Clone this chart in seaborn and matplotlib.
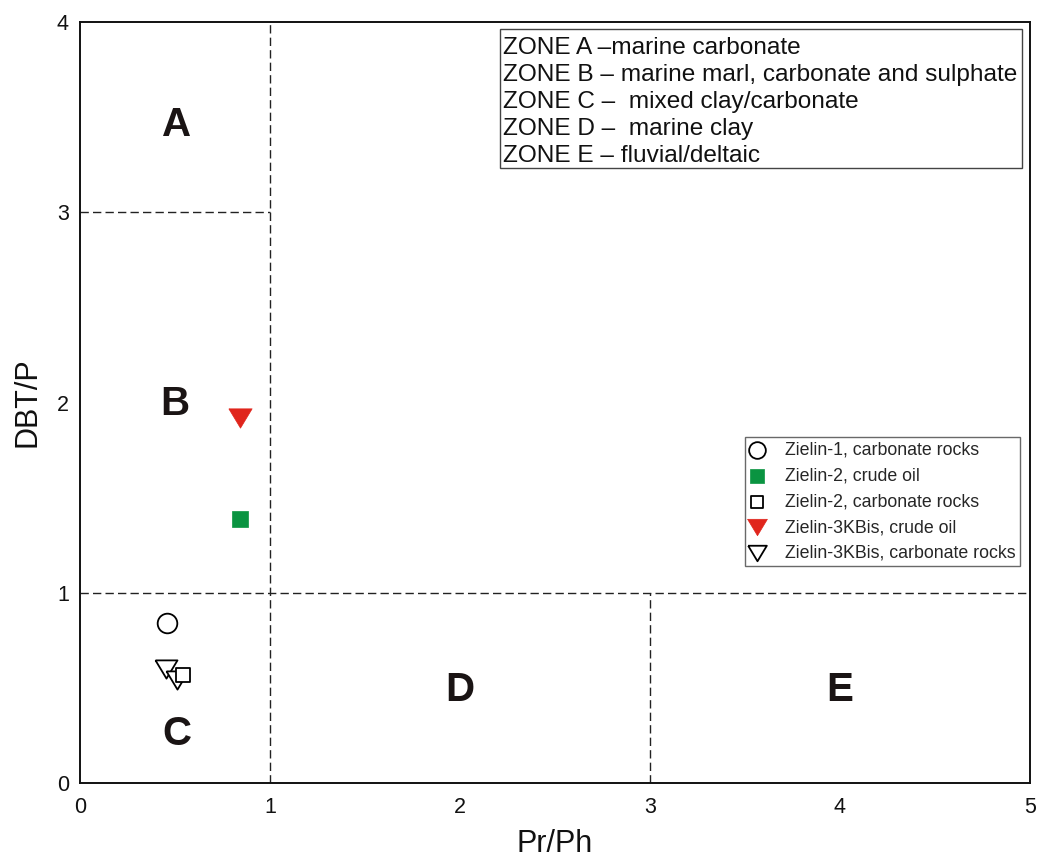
import numpy as np
import pandas as pd
import matplotlib
matplotlib.use("Agg")
import matplotlib.pyplot as plt
from matplotlib.markers import MarkerStyle
from matplotlib.patches import Rectangle
import seaborn as sns

sns.set_style("white")
plt.rcParams['font.family'] = ['Liberation Sans', 'DejaVu Sans']

# ---- data ----
series = ["Zielin-1, carbonate rocks", "Zielin-2, crude oil", "Zielin-2, carbonate rocks",
          "Zielin-3KBis, crude oil", "Zielin-3KBis, carbonate rocks"]
pr_ph = [[0.46], [0.84], [0.54], [0.84], [0.45, 0.51]]
dbt_p = [[0.84], [1.39], [0.57], [1.92], [0.60, 0.54]]

zone_letters = ["A", "B", "C", "D", "E"]
zone_x = [0.51, 0.50, 0.51, 2.0, 4.0]
zone_y = [3.46, 1.99, 0.26, 0.49, 0.49]
zone_text = ["ZONE A \u2013marine carbonate",
             "ZONE B \u2013 marine marl, carbonate and sulphate",
             "ZONE C \u2013  mixed clay/carbonate",
             "ZONE D \u2013  marine clay",
             "ZONE E \u2013 fluvial/deltaic"]
x_ticks = [0, 1, 2, 3, 4, 5]
y_ticks = [0, 1, 2, 3, 4]

rows = []
for s, xs, ys in zip(series, pr_ph, dbt_p):
    for xv, yv in zip(xs, ys):
        rows.append({"Pr/Ph": xv, "DBT/P": yv, "series": s})
df = pd.DataFrame(rows)

tri = MarkerStyle([(-1, 0.83), (1, 0.83), (0, -0.83), (-1, 0.83)])
styles = {
    series[0]: dict(marker="o", s=200, color="white", edgecolor="black", linewidth=1.3, zorder=3),
    series[1]: dict(marker="s", s=135, color="#0a9441", edgecolor="#0a9441", linewidth=0.5, zorder=3),
    series[2]: dict(marker="s", s=110, color="white", edgecolor="black", linewidth=1.3, zorder=5),
    series[3]: dict(marker=tri, s=280, color="#e0251c", edgecolor="#e0251c", linewidth=0.5, zorder=3),
    series[4]: dict(marker=tri, s=250, color="white", edgecolor="black", linewidth=1.3, zorder=4),
}

fig = plt.figure(figsize=(10.38, 8.55), dpi=100)
ax = fig.add_axes([80/1038, 72/855, 950/1038, 761/855])

for s in series:
    sub = df[df["series"] == s]
    sns.scatterplot(data=sub, x="Pr/Ph", y="DBT/P", ax=ax, label=s, **styles[s])

# zone boundary lines
dkw = dict(color="#222222", linewidth=1.0, linestyle=(0, (6, 3)), zorder=1)
ax.plot([1, 1], [0, 4], **dkw)
ax.plot([0, 1], [3, 3], **dkw)
ax.plot([0, 5], [1, 1], **dkw)
ax.plot([3, 3], [0, 1], **dkw)

for L, zx, zy in zip(zone_letters, zone_x, zone_y):
    ax.text(zx, zy, L, fontsize=29, fontweight="bold", color="#1a1414",
            ha="center", va="center")

# zone description box
ax.add_patch(Rectangle((0.4421, 0.8081), 0.5495, 0.1827, transform=ax.transAxes,
                       facecolor="white", edgecolor="#444444", linewidth=1.0, zorder=6))
ax.text(0.4453, 0.9803, "\n".join(zone_text), transform=ax.transAxes,
        fontsize=17.6, linespacing=1.3, ha="left", va="top", color="#111111", zorder=7)

ax.set_xlim(0, 5)
ax.set_ylim(0, 4)
ax.set_xticks(x_ticks)
ax.set_yticks(y_ticks)
ax.tick_params(axis="both", direction="out", length=4, width=1, color="#999999",
               labelsize=15.5, labelcolor="#111111")
ax.tick_params(axis="x", pad=6)
ax.tick_params(axis="y", pad=4)
for sp in ax.spines.values():
    sp.set_color("#111111")
    sp.set_linewidth(1.4)
ax.set_xlabel("Pr/Ph", fontsize=22, color="#111111", labelpad=8)
ax.set_ylabel("DBT/P", fontsize=22, color="#111111", labelpad=10)

leg = ax.legend(loc="upper right", bbox_to_anchor=(0.9895, 0.4547), borderaxespad=0,
                fontsize=12.8, frameon=True, fancybox=False, markerscale=0.85,
                labelspacing=0.5, handletextpad=1.2, borderpad=0.25, handlelength=0.8)
leg.get_frame().set_edgecolor("#444444")
leg.get_frame().set_linewidth(1.0)

fig.savefig("out.png", dpi=100)
